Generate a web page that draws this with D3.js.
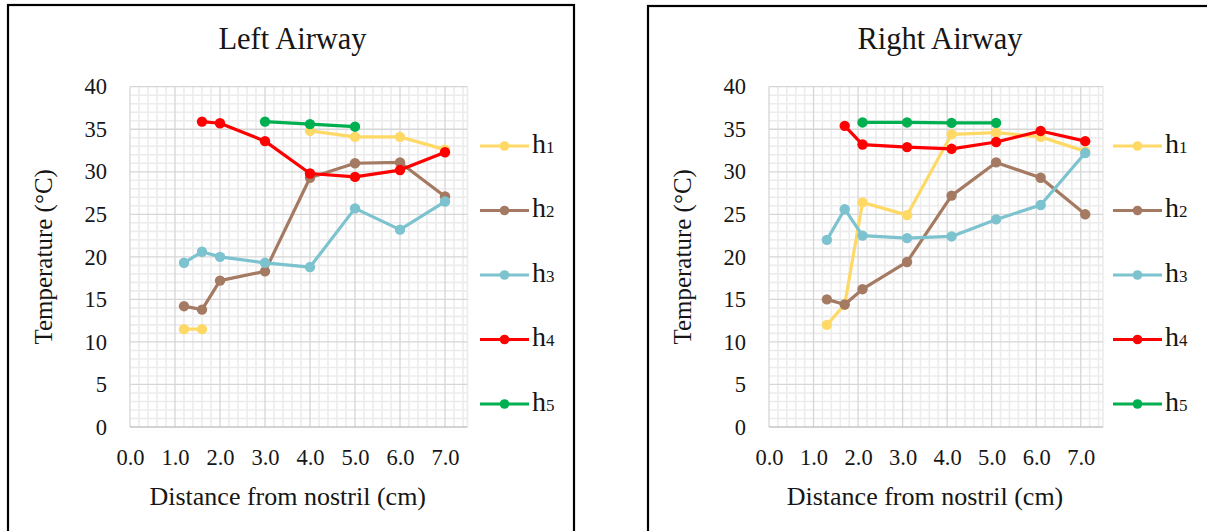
<!DOCTYPE html>
<html>
<head>
<meta charset="utf-8">
<script src="https://cdn.jsdelivr.net/npm/d3@7/dist/d3.min.js"></script>
<style>
  html, body { margin: 0; padding: 0; background: #ffffff; }
  svg { display: block; }
</style>
</head>
<body>
<svg id="chart" width="1207" height="531"></svg>
<script>
// Temperature along the airway at five heights (h1..h5)
const seriesNames = ["h1", "h2", "h3", "h4", "h5"];
const seriesColors = ["#FFD966", "#A57A63", "#7CC2CF", "#FF0000", "#00B050"];

const leftDistance = [1.2, 1.6, 2.0, 3.0, 4.0, 5.0, 6.0, 7.0];
const leftH1 = [11.5, 11.5, null, null, 34.8, 34.1, 34.1, 32.6];
const leftH2 = [14.2, 13.8, 17.2, 18.3, 29.3, 31.0, 31.1, 27.1];
const leftH3 = [19.3, 20.6, 20.0, 19.3, 18.8, 25.7, 23.2, 26.5];
const leftH4 = [null, 35.9, 35.7, 33.6, 29.8, 29.4, 30.2, 32.3];
const leftH5 = [null, null, null, 35.9, 35.6, 35.3, null, null];

const rightDistance = [1.3, 1.7, 2.1, 3.1, 4.1, 5.1, 6.1, 7.1];
const rightH1 = [12.0, 14.4, 26.4, 24.9, 34.4, 34.6, 34.1, 32.4];
const rightH2 = [15.0, 14.4, 16.2, 19.4, 27.2, 31.1, 29.3, 25.0];
const rightH3 = [22.0, 25.6, 22.5, 22.2, 22.4, 24.4, 26.1, 32.2];
const rightH4 = [null, 35.4, 33.2, 32.9, 32.7, 33.5, 34.8, 33.6];
const rightH5 = [null, null, 35.8, 35.8, 35.75, 35.75, null, null];

const xTickValues = [0, 1, 2, 3, 4, 5, 6, 7];
const yTickValues = [0, 5, 10, 15, 20, 25, 30, 35, 40];
const xTitle = "Distance from nostril (cm)";
const yTitle = "Temperature (°C)";

// pick the first serif face the system actually has
function pickFont(candidates) {
  const ctx = document.createElement("canvas").getContext("2d");
  const probe = "Distance Airway 0123456789 mwWiIl";
  const widthOf = f => { ctx.font = `40px ${f}`; return ctx.measureText(probe).width; };
  const mono = widthOf("monospace"), sans = widthOf("sans-serif");
  for (const c of candidates) {
    if (widthOf(`"${c}", monospace`) !== mono || widthOf(`"${c}", sans-serif`) !== sans) return c;
  }
  return null;
}
const serifFace = pickFont(["Liberation Serif", "DejaVu Serif", "Noto Serif", "Tinos",
  "Times New Roman", "Times", "FreeSerif", "Nimbus Roman", "Georgia"]);
const fontFamily = serifFace ? `"${serifFace}", serif` : "serif";

const svg = d3.select("#chart").style("font-family", fontFamily);

function drawPanel(opt) {
  const g = svg.append("g").attr("font-family", fontFamily).attr("fill", "#161616");

  // outer frame
  g.append("rect")
    .attr("x", opt.frame[0]).attr("y", opt.frame[1])
    .attr("width", opt.frame[2]).attr("height", opt.frame[3])
    .attr("fill", "#fff").attr("stroke", "#000").attr("stroke-width", 2.2);

  const x = d3.scaleLinear().domain([0, 7.5]).range(opt.xRange);
  const y = d3.scaleLinear().domain([0, 40]).range([427, 86.7]);

  // minor gridlines
  const minorX = d3.range(0, 75).map(i => i / 10).filter((v, i) => i % 2 === 0 && i % 10 !== 0).concat([7.5]);
  const minorY = d3.range(0, 41).filter(v => v % 5 !== 0);
  g.append("g").selectAll("line").data(minorX).join("line")
    .attr("x1", d => x(d)).attr("x2", d => x(d))
    .attr("y1", y(40)).attr("y2", y(0))
    .attr("stroke", "#ececec").attr("stroke-width", 1.6);
  g.append("g").selectAll("line").data(minorY).join("line")
    .attr("x1", x(0)).attr("x2", x(7.5))
    .attr("y1", d => y(d)).attr("y2", d => y(d))
    .attr("stroke", "#ececec").attr("stroke-width", 1.6);

  // major gridlines
  g.append("g").selectAll("line").data(xTickValues).join("line")
    .attr("x1", d => x(d)).attr("x2", d => x(d))
    .attr("y1", y(40)).attr("y2", y(0))
    .attr("stroke", "#d6d6d6").attr("stroke-width", 1.3);
  g.append("g").selectAll("line").data(yTickValues.filter(v => v > 0)).join("line")
    .attr("x1", x(0)).attr("x2", x(7.5))
    .attr("y1", d => y(d)).attr("y2", d => y(d))
    .attr("stroke", "#d6d6d6").attr("stroke-width", 1.3);

  // x axis line
  g.append("line")
    .attr("x1", x(0)).attr("x2", x(7.5))
    .attr("y1", y(0)).attr("y2", y(0))
    .attr("stroke", "#c4c4c4").attr("stroke-width", 1.6);

  // axes (labels only)
  const xAxis = g.append("g").attr("transform", `translate(0,${y(0)})`)
    .call(d3.axisBottom(x).tickValues(xTickValues).tickFormat(d3.format(".1f")).tickSize(0).tickPadding(22));
  xAxis.select(".domain").remove();
  xAxis.attr("font-family", fontFamily);
  xAxis.selectAll("text").attr("font-size", 22.5).attr("fill", "#161616");

  const yAxis = g.append("g").attr("transform", `translate(${x(0)},0)`)
    .call(d3.axisLeft(y).tickValues(yTickValues).tickFormat(d3.format("d")).tickSize(0).tickPadding(23));
  yAxis.select(".domain").remove();
  yAxis.attr("font-family", fontFamily);
  yAxis.selectAll("text").attr("font-size", 22.5).attr("fill", "#161616");

  // titles
  g.append("text").attr("x", opt.titleX).attr("y", 49)
    .attr("text-anchor", "middle").attr("font-size", 30.5).text(opt.title);
  g.append("text").attr("x", (opt.xRange[0] + x(7.5)) / 2 - 11).attr("y", 505)
    .attr("text-anchor", "middle").attr("font-size", 26).text(xTitle);
  g.append("text")
    .attr("transform", `translate(${opt.yTitleX},${(y(0) + y(40)) / 2}) rotate(-90)`)
    .attr("text-anchor", "middle").attr("font-size", 25).text(yTitle);

  // series
  const line = d3.line()
    .defined(d => d[1] !== null)
    .x(d => x(d[0])).y(d => y(d[1]));

  opt.series.forEach((vals, i) => {
    const pts = opt.distance.map((d, j) => [d, vals[j]]);
    g.append("path").datum(pts)
      .attr("d", line).attr("fill", "none")
      .attr("stroke", seriesColors[i]).attr("stroke-width", 3.2)
      .attr("stroke-linejoin", "round").attr("stroke-linecap", "round");
    g.append("g").selectAll("circle").data(pts.filter(p => p[1] !== null)).join("circle")
      .attr("cx", p => x(p[0])).attr("cy", p => y(p[1])).attr("r", 5.2)
      .attr("fill", seriesColors[i]);
  });

  // legend
  const legendY = d3.scalePoint().domain(seriesNames).range([146, 404]);
  seriesNames.forEach((name, i) => {
    const ly = legendY(name);
    g.append("line")
      .attr("x1", opt.legendX).attr("x2", opt.legendX + 49)
      .attr("y1", ly).attr("y2", ly)
      .attr("stroke", seriesColors[i]).attr("stroke-width", 3.2);
    g.append("circle").attr("cx", opt.legendX + 24.5).attr("cy", ly).attr("r", 4.8)
      .attr("fill", seriesColors[i]);
    const t = g.append("text").attr("x", opt.legendX + 52).attr("y", ly + 6.5).attr("font-size", 28);
    t.append("tspan").text(name.charAt(0));
    t.append("tspan").attr("font-size", 17).text(name.slice(1));
  });
}

drawPanel({
  frame: [8, 5, 566, 545],
  xRange: [130, 467.5],
  title: "Left Airway",
  titleX: 292.5,
  yTitleX: 52,
  legendX: 480,
  distance: leftDistance,
  series: [leftH1, leftH2, leftH3, leftH4, leftH5]
});

drawPanel({
  frame: [648, 6, 600, 545],
  xRange: [769, 1103],
  title: "Right Airway",
  titleX: 940,
  yTitleX: 691,
  legendX: 1113,
  distance: rightDistance,
  series: [rightH1, rightH2, rightH3, rightH4, rightH5]
});
</script>
</body>
</html>
